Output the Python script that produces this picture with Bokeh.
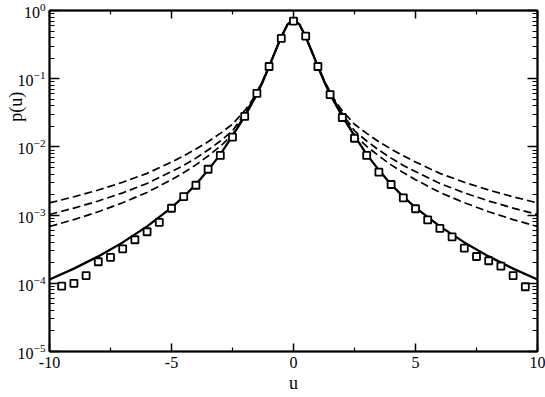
import math
from bokeh.plotting import figure
from bokeh.models import LogAxis, LinearAxis, FixedTicker, Range1d
from bokeh.embed import file_html
from bokeh.resources import INLINE

# ---- data ----
x_ticks = [-10, -5, 0, 5, 10]
x_tick_labels = ["-10", "-5", "0", "5", "10"]
x_minor = [-7.5, -2.5, 2.5, 7.5]
y_ticks = [1e-5, 1e-4, 1e-3, 1e-2, 1e-1, 1e0]
x_title = "u"
y_title = "p(u)"

x_sq = [-9.5, -9.0, -8.5, -8.0, -7.5, -7.0, -6.5, -6.0, -5.5, -5.0, -4.5, -4.0, -3.5, -3.0,
        -2.5, -2.0, -1.5, -1.0, -0.5, 0.0, 0.5, 1.0, 1.5, 2.0, 2.5, 3.0, 3.5, 4.0, 4.5, 5.0,
        5.5, 6.0, 6.5, 7.0, 7.5, 8.0, 8.5, 9.0, 9.5]
p_sq = [9.1e-5, 1.0e-4, 1.3e-4, 2.07e-4, 2.4e-4, 3.2e-4, 4.35e-4, 5.7e-4, 7.8e-4, 1.26e-3,
        1.87e-3, 2.74e-3, 4.7e-3, 7.5e-3, 0.0139, 0.028, 0.061, 0.151, 0.39, 0.70,
        0.42, 0.151, 0.0586, 0.027, 0.0134, 7.5e-3, 4.26e-3, 2.81e-3, 1.79e-3, 1.24e-3,
        8.5e-4, 6.4e-4, 4.8e-4, 3.27e-4, 2.47e-4, 2.14e-4, 1.78e-4, 1.3e-4, 8.9e-5]

x_line = [-10, -9, -8, -7, -6, -5, -4.5, -4, -3.5, -3, -2.5, -2, -1.75, -1.5, -1.25, -1,
          -0.75, -0.5, -0.25, 0, 0.25, 0.5, 0.75, 1, 1.25, 1.5, 1.75, 2, 2.5, 3, 3.5, 4,
          4.5, 5, 6, 7, 8, 9, 10]
p_solid = [1.135e-4, 1.64e-4, 2.48e-4, 3.98e-4, 6.84e-4, 1.29e-3, 1.86e-3, 2.82e-3, 4.57e-3,
           7.76e-3, 0.0145, 0.028, 0.0405, 0.059, 0.092, 0.15, 0.25, 0.41, 0.62, 0.74,
           0.62, 0.41, 0.25, 0.15, 0.092, 0.059, 0.0405, 0.028, 0.0145, 7.76e-3, 4.57e-3,
           2.82e-3, 1.86e-3, 1.29e-3, 6.84e-4, 3.98e-4, 2.48e-4, 1.64e-4, 1.135e-4]
p_dash1 = [1.51e-3, 1.855e-3, 2.33e-3, 3.03e-3, 4.09e-3, 6.0e-3, 7.4e-3, 9.3e-3, 0.0119,
           0.0158, 0.0215, 0.034, 0.045, 0.064, 0.096, 0.155, 0.252, 0.412, 0.62, 0.74,
           0.62, 0.412, 0.252, 0.155, 0.096, 0.064, 0.045, 0.034, 0.0215, 0.0158, 0.0119,
           9.3e-3, 7.4e-3, 6.0e-3, 4.09e-3, 3.03e-3, 2.33e-3, 1.855e-3, 1.51e-3]
p_dash2 = [1.02e-3, 1.266e-3, 1.61e-3, 2.12e-3, 2.91e-3, 4.35e-3, 5.35e-3, 6.85e-3, 9.0e-3,
           0.0122, 0.0172, 0.031, 0.043, 0.062, 0.094, 0.153, 0.251, 0.411, 0.62, 0.74,
           0.62, 0.411, 0.251, 0.153, 0.094, 0.062, 0.043, 0.031, 0.0172, 0.0122, 9.0e-3,
           6.85e-3, 5.35e-3, 4.35e-3, 2.91e-3, 2.12e-3, 1.61e-3, 1.266e-3, 1.02e-3]
p_dash3 = [6.8e-4, 8.6e-4, 1.12e-3, 1.52e-3, 2.15e-3, 3.3e-3, 4.2e-3, 5.45e-3, 7.35e-3,
           0.0102, 0.0150, 0.0295, 0.0415, 0.0605, 0.093, 0.152, 0.25, 0.41, 0.62, 0.74,
           0.62, 0.41, 0.25, 0.152, 0.093, 0.0605, 0.0415, 0.0295, 0.0150, 0.0102, 7.35e-3,
           5.45e-3, 4.2e-3, 3.3e-3, 2.15e-3, 1.52e-3, 1.12e-3, 8.6e-4, 6.8e-4]

y_minor = [m * 10.0 ** e for e in range(-5, 0) for m in range(2, 10)]

FONT = "Liberation Serif"

p = figure(frame_width=488, frame_height=341, x_range=Range1d(-10, 10), y_range=Range1d(1e-5, 1.0),
           y_axis_type="log", output_backend="svg", toolbar_location=None,
           min_border_left=49, min_border_right=8, min_border_top=10, min_border_bottom=44)
p.xgrid.visible = False
p.ygrid.visible = False
p.outline_line_color = "black"
p.outline_line_width = 1.5
p.background_fill_color = "white"
p.border_fill_color = "white"


def style_axis(ax, major_in, minor_in):
    ax.axis_line_color = "black"
    ax.axis_line_width = 2
    ax.major_tick_in = major_in
    ax.major_tick_out = 0
    ax.minor_tick_in = minor_in
    ax.minor_tick_out = 0
    ax.major_tick_line_color = "black"
    ax.major_tick_line_width = 1.5
    ax.minor_tick_line_color = "black"
    ax.minor_tick_line_width = 1.2
    ax.major_label_text_font = FONT
    ax.major_label_text_color = "black"
    ax.major_label_text_font_size = "16px"
    ax.major_label_standoff = 5


def style_title(ax, text):
    ax.axis_label = text
    ax.axis_label_text_font = FONT
    ax.axis_label_text_font_size = "18px"
    ax.axis_label_text_font_style = "normal"
    ax.axis_label_text_color = "black"


xt = FixedTicker(ticks=x_ticks, minor_ticks=x_minor)
yt = FixedTicker(ticks=y_ticks, minor_ticks=y_minor)

xb = p.xaxis[0]
xb.ticker = xt
xb.major_label_overrides = {t: s for t, s in zip(x_ticks, x_tick_labels)}
style_axis(xb, 8, 4)
style_title(xb, x_title)
xb.axis_label_standoff = 2

yl = p.yaxis[0]
yl.ticker = yt
style_axis(yl, 10, 5)
yl.major_label_standoff = 4
# leading no-break spaces push the visible title up along the axis, as in the reference
style_title(yl, "\u00a0" * 33 + y_title)
yl.axis_label_standoff = -11

# mirror axes: ticks only, no labels
xa = LinearAxis(ticker=FixedTicker(ticks=x_ticks, minor_ticks=x_minor))
style_axis(xa, 8, 4)
xa.major_label_text_font_size = "1px"
xa.major_label_standoff = 0
xa.major_label_overrides = {t: "" for t in x_ticks}
p.add_layout(xa, "above")

yr = LogAxis(ticker=FixedTicker(ticks=y_ticks, minor_ticks=y_minor))
style_axis(yr, 10, 5)
yr.major_label_text_font_size = "1px"
yr.major_label_standoff = 0
yr.major_label_overrides = {t: "" for t in y_ticks}
p.add_layout(yr, "right")

for vals in (p_dash1, p_dash2, p_dash3):
    p.line(x_line, vals, line_color="black", line_width=1.7, line_dash="8 4")
p.line(x_line, p_solid, line_color="black", line_width=2.3)
p.scatter(x_sq, p_sq, marker="square", size=7, fill_color="white",
          line_color="black", line_width=1.8)

open("out.html", "w").write(file_html(p, INLINE))
